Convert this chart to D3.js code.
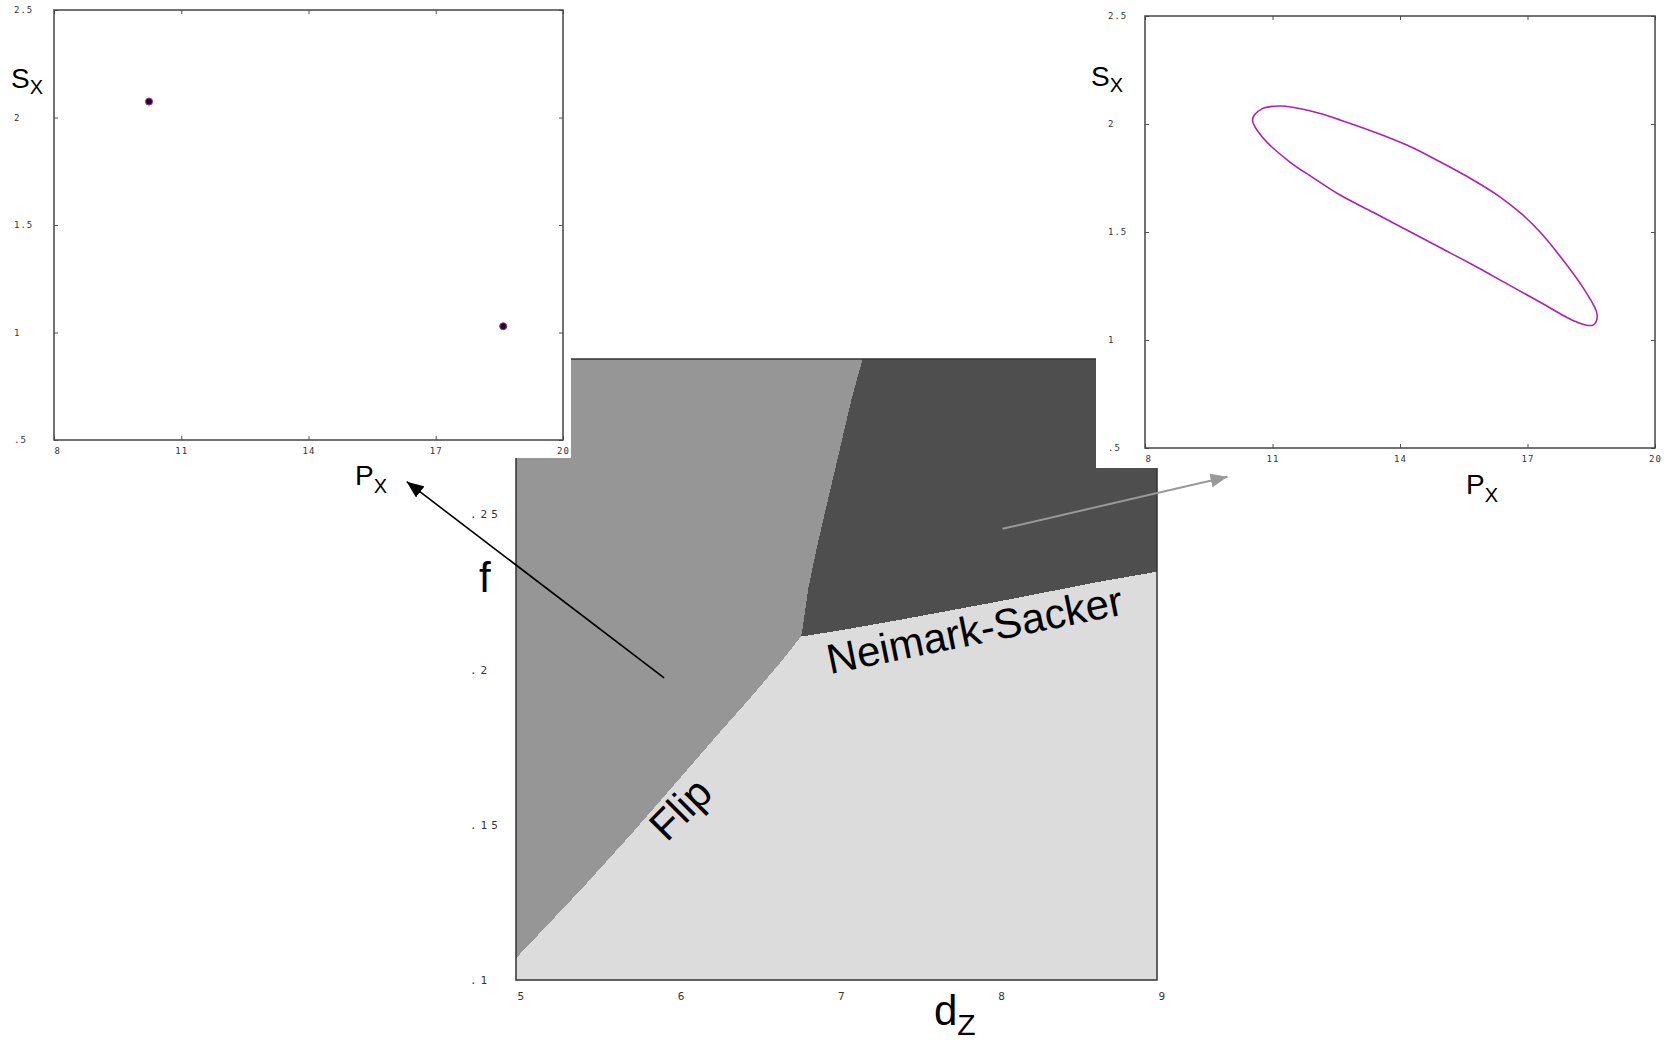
<!DOCTYPE html>
<html>
<head>
<meta charset="utf-8">
<script src="https://cdn.jsdelivr.net/npm/d3@7"></script>
<style>
  html, body { margin: 0; padding: 0; background: #fff; }
  svg { display: block; }
  .tick text { font-family: "DejaVu Sans Mono", monospace; fill: #333; }
</style>
</head>
<body>
<svg id="chart" width="1671" height="1040"></svg>
<script>
// ---- Two-parameter bifurcation diagram (d_Z, f) ----
const dzTicks = [5, 6, 7, 8, 9];
const fTicks = [0.1, 0.15, 0.2, 0.25];

// Flip curve: from the left edge up to the codimension-two point
const flipCurve = [[5.0, 0.107], [5.416, 0.1297], [5.728, 0.1475], [6.04, 0.166],
  [6.248, 0.1784], [6.456, 0.1905], [6.664, 0.2031], [6.778, 0.2106]];
// Neimark-Sacker curve: from the codimension-two point to the right edge
const nsCurve = [[6.778, 0.2106], [7.0, 0.2124], [7.396, 0.2160], [8.02, 0.2220],
  [8.644, 0.2283], [9.0, 0.2315]];
// Border between period-2 region and quasi-periodic region
const torusCurve = [[6.778, 0.2106], [6.789, 0.2133], [6.824, 0.2261], [6.876, 0.239],
  [6.939, 0.253], [7.022, 0.2712], [7.095, 0.2873], [7.163, 0.3]];

// ---- Phase portraits (P_X, S_X) ----
const pxTicks = [8, 11, 14, 17, 20];
const sxTicks = [0.5, 1, 1.5, 2, 2.5];
const period2Points = [[10.24, 2.074], [18.59, 1.029]];
const invariantCurve = [[10.53, 2.019], [10.75, 2.07], [11.18, 2.083], [11.9, 2.06],
  [12.59, 2.019], [14.16, 1.903], [14.94, 1.825], [15.72, 1.741], [16.35, 1.663],
  [16.89, 1.579], [17.29, 1.501], [17.69, 1.407], [18.31, 1.241],
  [18.64, 1.116], [18.54, 1.069], [18.16, 1.083], [17.29, 1.176],
  [16.5, 1.262], [15.72, 1.347], [14.94, 1.428], [14.16, 1.509], [13.38, 1.59],
  [12.59, 1.671], [11.95, 1.752], [11.41, 1.824], [10.78, 1.935]];

const svg = d3.select("#chart");
const trimZero = v => String(v).replace(/^0\./, ".");

// ---------- main diagram ----------
const x = d3.scaleLinear().domain([5, 9]).range([516, 1157]);
const y = d3.scaleLinear().domain([0.1, 0.3]).range([980, 359]);
const poly = d3.line().x(d => x(d[0])).y(d => y(d[1]));

const main = svg.append("g");
main.append("rect")
  .attr("x", x(5)).attr("y", y(0.3))
  .attr("width", x(9) - x(5)).attr("height", y(0.1) - y(0.3))
  .attr("fill", "#dcdcdc");

const period2Region = [[5, 0.3]]
  .concat(torusCurve.slice().reverse())
  .concat(flipCurve.slice().reverse().slice(1));
main.append("path")
  .attr("d", poly(period2Region) + "Z")
  .attr("fill", "#969696")
  .attr("shape-rendering", "crispEdges");

const quasiRegion = [[9, 0.3]]
  .concat(nsCurve.slice().reverse())
  .concat(torusCurve.slice(1));
main.append("path")
  .attr("d", poly(quasiRegion) + "Z")
  .attr("fill", "#4e4e4e")
  .attr("shape-rendering", "crispEdges");

main.append("rect")
  .attr("x", x(5)).attr("y", y(0.3))
  .attr("width", x(9) - x(5)).attr("height", y(0.1) - y(0.3))
  .attr("fill", "none").attr("stroke", "#333").attr("stroke-width", 1.5);

const xAxis = main.append("g")
  .attr("transform", `translate(0,${y(0.1)})`)
  .call(d3.axisBottom(x).tickValues(dzTicks).tickSize(0).tickFormat(d3.format("d")));
xAxis.select(".domain").remove();
xAxis.selectAll("text")
  .attr("y", 12).attr("x", 1).attr("text-anchor", "start")
  .style("font-size", "11px");

const yAxis = main.append("g")
  .attr("transform", `translate(${x(5)},0)`)
  .call(d3.axisLeft(y).tickValues(fTicks).tickSize(0).tickFormat(trimZero));
yAxis.select(".domain").remove();
yAxis.selectAll("text")
  .attr("x", -46).attr("text-anchor", "start")
  .style("font-size", "11px").style("letter-spacing", "4px");

const bigFont = "'Liberation Sans', Arial, sans-serif";
main.append("text")
  .attr("x", 479).attr("y", 592)
  .attr("font-family", bigFont).attr("font-size", 42).text("f");
const dzLabel = main.append("text")
  .attr("x", 934).attr("y", 1025)
  .attr("font-family", bigFont).attr("font-size", 42);
dzLabel.append("tspan").text("d");
dzLabel.append("tspan").attr("dy", 10).attr("font-size", 30).text("Z");

main.append("text")
  .attr("transform", `translate(${x(5.94)},${y(0.1441)}) rotate(-45)`)
  .attr("font-family", bigFont).attr("font-size", 42).text("Flip");
main.append("text")
  .attr("transform", `translate(${x(6.959)},${y(0.1985)}) rotate(-11.5)`)
  .attr("font-family", bigFont).attr("font-size", 42).text("Neimark-Sacker");

// ---------- phase portrait panels ----------
function panel(g, box, bgRect, labelX, titles) {
  g.append("rect")
    .attr("x", bgRect[0]).attr("y", bgRect[1])
    .attr("width", bgRect[2]).attr("height", bgRect[3])
    .attr("fill", "#fff");
  const px = d3.scaleLinear().domain([8, 20]).range([box.x0, box.x1]);
  const sy = d3.scaleLinear().domain([0.5, 2.5]).range([box.y1, box.y0]);

  const bx = g.append("g").attr("transform", `translate(0,${box.y1})`)
    .call(d3.axisBottom(px).tickValues(pxTicks).tickSizeInner(-4).tickSizeOuter(0)
      .tickFormat(d3.format("d")));
  bx.selectAll("text").attr("y", 8).style("font-size", "9px").style("letter-spacing", "1px");
  bx.selectAll("text").filter((d, i) => i === 0).attr("text-anchor", "start").attr("x", 0);
  const tx = g.append("g").attr("transform", `translate(0,${box.y0})`)
    .call(d3.axisTop(px).tickValues(pxTicks).tickSizeInner(-4).tickSizeOuter(0).tickFormat(""));
  const ly = g.append("g").attr("transform", `translate(${box.x0},0)`)
    .call(d3.axisLeft(sy).tickValues(sxTicks).tickSizeInner(-4).tickSizeOuter(0)
      .tickFormat(trimZero));
  ly.selectAll("text").attr("x", labelX - box.x0).attr("text-anchor", "start")
    .style("font-size", "9px").style("letter-spacing", "1px");
  const ry = g.append("g").attr("transform", `translate(${box.x1},0)`)
    .call(d3.axisRight(sy).tickValues(sxTicks).tickSizeInner(-4).tickSizeOuter(0).tickFormat(""));
  [bx, tx, ly, ry].forEach(a => {
    a.select(".domain").remove();
    a.selectAll("line").attr("stroke", "#555");
  });
  g.append("rect")
    .attr("x", box.x0).attr("y", box.y0)
    .attr("width", box.x1 - box.x0).attr("height", box.y1 - box.y0)
    .attr("fill", "none").attr("stroke", "#444").attr("stroke-width", 1.5);

  const s = g.append("text").attr("x", titles.s[0]).attr("y", titles.s[1])
    .attr("font-family", bigFont).attr("font-size", 28);
  s.append("tspan").text("S");
  s.append("tspan").attr("dy", 6).attr("font-size", 20).text("X");
  const p = g.append("text").attr("x", titles.p[0]).attr("y", titles.p[1])
    .attr("font-family", bigFont).attr("font-size", 28);
  p.append("tspan").text("P");
  p.append("tspan").attr("dy", 8).attr("font-size", 20).text("X");
  return { px, sy };
}

// left panel: period-2 cycle
const left = svg.append("g");
const L = panel(left, { x0: 54, x1: 563, y0: 10, y1: 440 }, [0, 0, 571, 458], 14,
  { s: [11, 88], p: [355, 485] });
left.selectAll("circle.pt").data(period2Points).join("circle")
  .attr("class", "pt")
  .attr("cx", d => L.px(d[0])).attr("cy", d => L.sy(d[1]))
  .attr("r", 3.5)
  .attr("fill", "#111").attr("stroke", "#b020b0").attr("stroke-width", 1);

// right panel: closed invariant curve
const right = svg.append("g");
const R = panel(right, { x0: 1145, x1: 1655, y0: 16, y1: 448 }, [1096, 0, 575, 468], 1108,
  { s: [1091, 86], p: [1466, 494] });
right.append("path")
  .attr("d", d3.line().x(d => R.px(d[0])).y(d => R.sy(d[1]))
    .curve(d3.curveCatmullRomClosed.alpha(0.5))(invariantCurve))
  .attr("fill", "none").attr("stroke", "#b020b0").attr("stroke-width", 1.6);

// ---------- pointer arrows from regions to portraits ----------
const defs = svg.append("defs");
[["headBlack", "#000"], ["headGray", "#999"]].forEach(([id, c]) => {
  defs.append("marker")
    .attr("id", id).attr("viewBox", "-17 -7 18 14")
    .attr("refX", 0).attr("refY", 0)
    .attr("markerWidth", 18).attr("markerHeight", 14)
    .attr("markerUnits", "userSpaceOnUse").attr("orient", "auto")
    .append("path").attr("d", "M0,0 L-17,-7 L-17,7 Z").attr("fill", c);
});
const arrows = [
  { from: [5.924, 0.1973], to: [4.318, 0.2605], color: "#000", w: 1.6, head: "headBlack" },
  { from: [8.036, 0.2453], to: [9.44, 0.2621], color: "#999", w: 2, head: "headGray" }
];
svg.append("g").selectAll("line").data(arrows).join("line")
  .attr("x1", d => x(d.from[0])).attr("y1", d => y(d.from[1]))
  .attr("x2", d => x(d.to[0])).attr("y2", d => y(d.to[1]))
  .attr("stroke", d => d.color).attr("stroke-width", d => d.w)
  .attr("marker-end", d => `url(#${d.head})`);
</script>
</body>
</html>
